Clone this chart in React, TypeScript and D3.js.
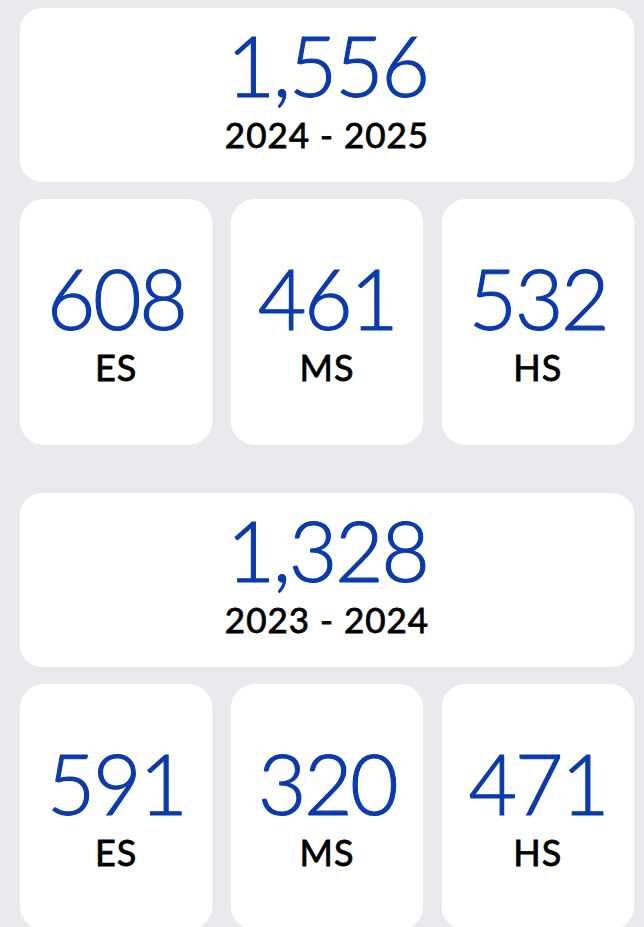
import React from "react";
import * as d3 from "d3";

const years = ["2024 - 2025", "2023 - 2024"];
const totals = [1556, 1328];
const levels = ["ES", "MS", "HS"];
const esValues = [608, 591];
const msValues = [461, 320];
const hsValues = [532, 471];

const W = 644;
const H = 927;
const BG = "#e8e9ed";
const BLUE = "#0a3aab";
const FONT = "Lato, 'Noto Sans', sans-serif";

export default function App() {
  const fmt = d3.format(",");
  const x = d3.scaleBand<string>().domain(levels).range([20, 634]).paddingInner(17 / 193).paddingOuter(0);
  const blockTop = d3.scaleLinear().domain([0, 1]).range([8, 493]);
  const rows = years.map((y, i) => ({
    year: y,
    total: totals[i],
    vals: [esValues[i], msValues[i], hsValues[i]],
  }));
  const numStyle = { fontFamily: FONT, fontSize: 84, fill: BLUE, fontWeight: 300, letterSpacing: -2.5, stroke: BLUE, strokeWidth: 1.1 } as const;
  const lblStyle = { fontFamily: FONT, fill: "#000", fontWeight: 400, letterSpacing: 1, stroke: "#000", strokeWidth: 0.8 } as const;
  return (
    <div style={{ position: "fixed", left: 0, top: 0, width: W, height: H, background: BG }}>
      <svg width={W} height={H} style={{ display: "block" }}>
        <rect width={W} height={H} fill={BG} />
        {rows.map((r, i) => {
          const t = blockTop(i);
          return (
            <g key={r.year}>
              <rect x={20} y={t} width={614} height={174} rx={22} fill="#fff" />
              <text x={327} y={t + 89} textAnchor="middle" style={numStyle}>
                {fmt(r.total)}
              </text>
              <text x={327} y={t + 140} textAnchor="middle" style={{ ...lblStyle, fontSize: 35 }}>
                {r.year}
              </text>
              {levels.map((lv, j) => (
                <g key={lv}>
                  <rect x={x(lv)} y={t + 191} width={x.bandwidth()} height={246} rx={24} fill="#fff" />
                  <text x={(x(lv) as number) + x.bandwidth() / 2} y={t + 322} textAnchor="middle" style={numStyle}>
                    {r.vals[j]}
                  </text>
                  <text x={(x(lv) as number) + x.bandwidth() / 2} y={t + 373} textAnchor="middle" style={{ ...lblStyle, fontSize: 36 }}>
                    {lv}
                  </text>
                </g>
              ))}
            </g>
          );
        })}
      </svg>
    </div>
  );
}
